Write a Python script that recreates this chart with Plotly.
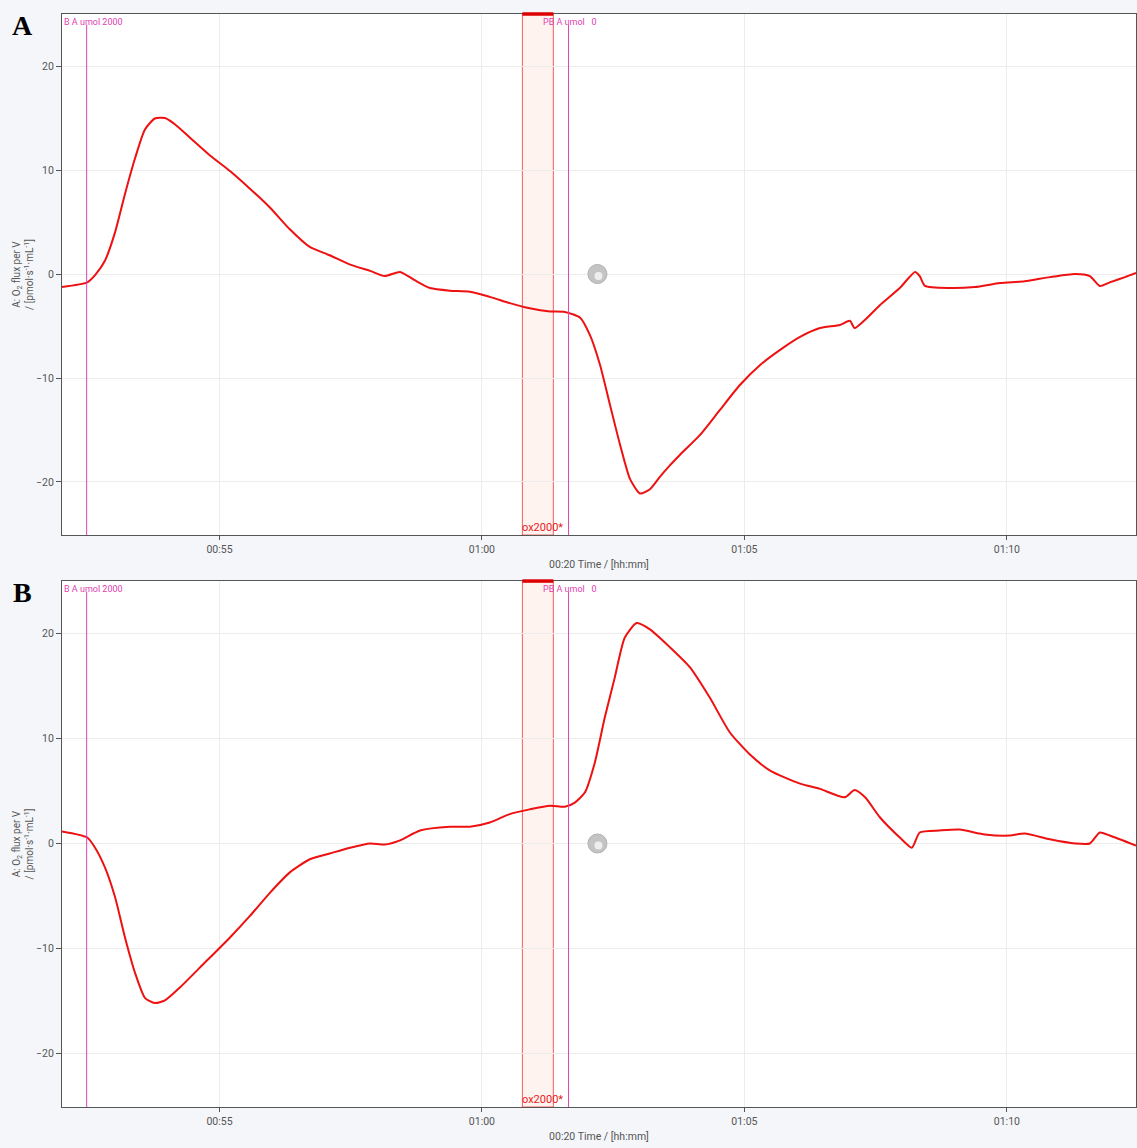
import pandas as pd
import plotly.graph_objects as go
from plotly.subplots import make_subplots

# Elapsed time in minutes and O2 flux per volume for the two chambers
time_a = [52.00, 52.48, 52.63, 52.82, 53.01, 53.20, 53.39, 53.58, 53.77, 53.96,
          54.15, 54.44, 54.82, 55.20, 55.58, 55.96, 56.34, 56.72, 57.10, 57.49,
          57.87, 58.15, 58.44, 58.72, 59.01, 59.39, 59.77, 60.15, 60.53, 60.91,
          61.30, 61.58, 61.87, 62.06, 62.25, 62.44, 62.63, 62.82, 63.01, 63.20,
          63.39, 63.58, 63.77, 64.15, 64.53, 64.91, 65.30, 65.68, 66.06, 66.44,
          66.82, 67.01, 67.10, 67.30, 67.58, 67.96, 68.25, 68.34, 68.44, 68.91,
          69.39, 69.87, 70.34, 70.82, 71.30, 71.58, 71.77, 71.96, 72.25, 72.46]
flux_a = [-1.25, -0.8, -0.1, 1.3, 4.0, 7.7, 11.1, 13.9, 14.95, 15.0,
          14.4, 13.1, 11.4, 9.9, 8.2, 6.4, 4.3, 2.6, 1.8, 0.9,
          0.3, -0.2, 0.2, -0.6, -1.35, -1.6, -1.7, -2.2, -2.8, -3.3,
          -3.6, -3.65, -4.2, -5.9, -8.75, -12.6, -16.4, -19.7, -21.1, -20.7,
          -19.5, -18.4, -17.4, -15.5, -13.1, -10.7, -8.75, -7.3, -6.05, -5.2,
          -4.9, -4.5, -5.2, -4.4, -3.0, -1.35, 0.2, -0.2, -1.15, -1.35,
          -1.25, -0.87, -0.7, -0.3, 0.0, -0.2, -1.15, -0.8, -0.3, 0.1]

time_b = [52.00, 52.48, 52.63, 52.82, 53.01, 53.20, 53.39, 53.58, 53.77, 53.96,
          54.25, 54.63, 55.20, 55.58, 55.96, 56.34, 56.72, 57.10, 57.49, 57.87,
          58.15, 58.44, 58.82, 59.39, 59.77, 60.15, 60.53, 60.91, 61.30, 61.58,
          61.77, 61.96, 62.15, 62.34, 62.53, 62.72, 62.95, 63.20, 63.58, 63.96,
          64.34, 64.72, 65.10, 65.49, 66.06, 66.44, 66.91, 67.10, 67.30, 67.58,
          67.96, 68.19, 68.34, 68.72, 69.10, 69.58, 70.06, 70.34, 70.82, 71.30,
          71.58, 71.77, 71.96, 72.46]
flux_b = [1.14, 0.57, -0.4, -2.3, -5.1, -8.95, -12.3, -14.7, -15.2, -14.95,
          -13.7, -11.8, -8.95, -6.9, -4.7, -2.75, -1.5, -0.95, -0.4, 0.0,
          -0.1, 0.3, 1.24, 1.6, 1.6, 2.0, 2.8, 3.25, 3.6, 3.5,
          3.9, 4.85, 7.7, 12.0, 15.8, 19.6, 21.0, 20.4, 18.7, 16.8,
          13.9, 10.6, 8.5, 6.95, 5.7, 5.2, 4.4, 5.1, 4.4, 2.5,
          0.57, -0.4, 1.05, 1.24, 1.33, 0.86, 0.76, 0.95, 0.4, 0.0,
          0.0, 1.05, 0.76, -0.2]

# Event marks (minutes) and labels
event_first = 52.47
event_second = 61.65
mark_start, mark_end = 60.77, 61.36
event_first_label = "B A umol 2000"
event_second_label = "PB\u00a0A umol\u00a0\u00a0\u00a00"
mark_label = "ox2000*"
panel_labels = ["A", "B"]
x_range_min = [52.0, 72.46]
y_ticks = [-20, -10, 0, 10, 20]

BASE = pd.Timestamp("2000-01-01")


def to_dt(minutes):
    return [BASE + pd.Timedelta(minutes=m) for m in minutes]


RED = "#ee1111"
MAGENTA = "#e040b0"
GRAY_TXT = "#555555"

fig = make_subplots(rows=2, cols=1, vertical_spacing=0.0421)

series = [(time_a, flux_a), (time_b, flux_b)]
for i, (t, v) in enumerate(series, start=1):
    fig.add_trace(go.Scatter(x=to_dt(t), y=v, mode="lines",
                             line=dict(color=RED, width=2, shape="spline", smoothing=0.6),
                             showlegend=False, hoverinfo="skip"), row=i, col=1)
    # small status icon near the zero line
    fig.add_trace(go.Scatter(x=to_dt([62.2]), y=[0], mode="markers",
                             marker=dict(symbol="circle", size=19, color="#c4c4c4",
                                         line=dict(color="#b0b0b0", width=1)),
                             showlegend=False, hoverinfo="skip"), row=i, col=1)
    fig.add_trace(go.Scatter(x=to_dt([62.22]), y=[-0.2], mode="markers",
                             marker=dict(symbol="circle", size=8, color="#eeeeee"),
                             showlegend=False, hoverinfo="skip"), row=i, col=1)

    xr = "x" if i == 1 else "x2"
    yd = "y domain" if i == 1 else "y2 domain"
    xd = "x domain" if i == 1 else "x2 domain"

    # marked interval
    fig.add_shape(type="rect", xref=xr, yref=yd,
                  x0=to_dt([mark_start])[0], x1=to_dt([mark_end])[0], y0=0, y1=1,
                  fillcolor="rgba(255,200,185,0.22)",
                  line=dict(color="rgba(235,40,40,0.75)", width=1), layer="below")
    fig.add_shape(type="line", xref=xr, yref=yd,
                  x0=to_dt([mark_start])[0], x1=to_dt([mark_end])[0], y0=1, y1=1,
                  line=dict(color="#dd0000", width=3.5))
    # event lines
    for ev in (event_first, event_second):
        fig.add_shape(type="line", xref=xr, yref=yd,
                      x0=to_dt([ev])[0], x1=to_dt([ev])[0], y0=0, y1=0.979,
                      line=dict(color=MAGENTA, width=1))

    fig.add_annotation(xref=xd, yref=yd, x=0.0, y=0.998, xanchor="left", yanchor="top",
                       text=event_first_label, showarrow=False,
                       font=dict(size=9, color=MAGENTA, family="Roboto"))
    fig.add_annotation(xref=xr, yref=yd, x=to_dt([event_second])[0], y=0.998,
                       xanchor="left", yanchor="top", xshift=-28,
                       text=event_second_label, showarrow=False,
                       font=dict(size=9, color=MAGENTA, family="Roboto"))
    fig.add_annotation(xref=xr, yref=yd, x=to_dt([mark_start])[0], y=0.0,
                       xanchor="left", yanchor="bottom", xshift=-2, yshift=-1,
                       text=mark_label, showarrow=False,
                       font=dict(size=11, color="#e81a1a", family="Roboto"))
    fig.add_annotation(xref="paper", yref=yd, x=-0.037, y=1.012, xanchor="center",
                       yanchor="top", text="<b>" + panel_labels[i - 1] + "</b>",
                       showarrow=False,
                       font=dict(size=28, color="black", family="Liberation Serif"))

    fig.update_xaxes(row=i, col=1, type="date",
                     range=to_dt(x_range_min), tickformat="%H:%M", dtick=300000,
                     tick0=BASE, showgrid=True, gridcolor="#ececec", gridwidth=1,
                     showline=True, linecolor="#555555", linewidth=1, mirror=True,
                     ticks="outside", ticklen=4, tickcolor="#555555",
                     tickfont=dict(size=10.5, color=GRAY_TXT, family="Roboto"),
                     title=dict(text="00:20 Time / [hh:mm]", standoff=6,
                                font=dict(size=10.5, color=GRAY_TXT, family="Roboto")),
                     zeroline=False)
    fig.update_yaxes(row=i, col=1, range=[-25.1, 25.0], tickvals=y_ticks,
                     showgrid=True, gridcolor="#ececec", gridwidth=1,
                     showline=True, linecolor="#555555", linewidth=1, mirror=True,
                     ticks="outside", ticklen=5, tickcolor="#555555",
                     tickfont=dict(size=10.5, color=GRAY_TXT, family="Roboto"),
                     title=dict(text="A: O<sub>2</sub> flux per V<br>/ [pmol·s<sup>-1</sup>·mL<sup>-1</sup>]",
                                standoff=0,
                                font=dict(size=10, color=GRAY_TXT, family="Roboto")),
                     zeroline=False)

fig.update_layout(
    width=1137, height=1148,
    margin=dict(l=62, r=1, t=14, b=41),
    paper_bgcolor="#f4f6fa",
    plot_bgcolor="white",
)
fig.layout.yaxis.domain = [0.5233, 1.0]
fig.layout.yaxis2.domain = [0.0, 0.4812]

fig.write_html("out.html")
